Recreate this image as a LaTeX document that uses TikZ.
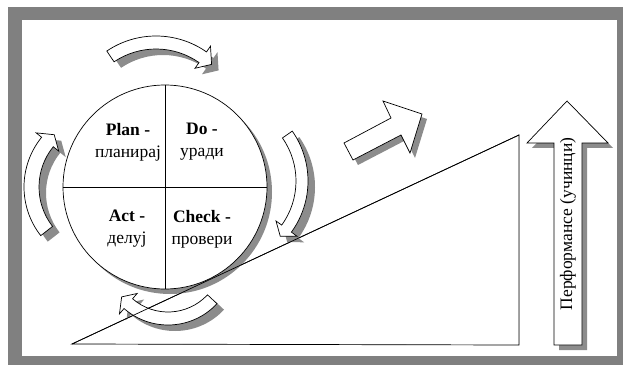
\documentclass[tikz,border=0pt]{standalone}
\usepackage{fontspec}
\setmainfont{Liberation Serif}
\usepackage{tikz}
\definecolor{framegray}{HTML}{808080}
\definecolor{shadowgray}{HTML}{8C8C8C}

% curved block arrow: [style]{cx}{cy}{r in}{r out}{tail}{head base}{tip}
\newcommand{\cyclearrow}[8][]{%
  \path[#1,shift={(#2,#3)}] (#6:#5) arc[start angle=#6, end angle=#7, radius=#5]
    -- (#7:{#5+7}) -- (#8:{(#4+#5)/2}) -- (#7:{#4-7}) -- (#7:#4)
    arc[start angle=#7, end angle=#6, radius=#4] -- cycle;}

\begin{document}
\begin{tikzpicture}[x=1pt,y=1pt,
  shadowpart/.style={fill=shadowgray,draw=none,shift={(5,-5)}},
  bentshadow/.style={fill=shadowgray,draw=none,shift={(7,-6)}},
  facepart/.style={fill=white,draw=black,line width=0.7pt},
  lbl/.style={align=center,font=\fontsize{17.5}{22}\selectfont}]
  \useasboundingbox (0,0) rectangle (623,367);
  % frame
  \fill[framegray] (8,2) rectangle (623,360);
  \fill[white] (22,11) rectangle (617,347);

  % ramp
  \coordinate (rampL) at (72,23);
  \coordinate (rampT) at (519,232);
  \coordinate (rampB) at (519,22);
  \path[shadowpart] (rampL) -- (rampT) -- (rampB) -- cycle;
  \path[facepart] (rampL) -- (rampT) -- (rampB) -- cycle;

  % performance arrow
  \path[shadowpart] (554,22) -- (554,224) -- (527,224) -- (567,266) -- (608,224) -- (582,224) -- (582,22) -- cycle;
  \path[facepart] (554,22) -- (554,224) -- (527,224) -- (567,266) -- (608,224) -- (582,224) -- (582,22) -- cycle;
  \node[lbl,rotate=90] (perf) at (568,143) {Перформансе (учинци)};

  % up-right arrow
  \path[shadowpart] (344,224) -- (391,249) -- (383,266) -- (422,253) -- (410,214) -- (401,232) -- (353,207) -- cycle;
  \path[facepart] (344,224) -- (391,249) -- (383,266) -- (422,253) -- (410,214) -- (401,232) -- (353,207) -- cycle;

  % PDCA wheel
  \fill[shadowgray] (170,175) circle[radius=102];
  \node[circle,draw,fill=white,line width=0.7pt,minimum size=204pt,inner sep=0pt] (cyc) at (165,180) {};
  \draw[line width=0.7pt] (cyc.north) -- (cyc.south);
  \draw[line width=0.7pt] (cyc.west) -- (cyc.east);
  \node[lbl] (plan) at (128,225) {\textbf{Plan -}\\планирај};
  \node[lbl] (do) at (202,225) {\textbf{Do -}\\уради};
  \node[lbl] (act) at (127,138) {\textbf{Act -}\\делуј};
  \node[lbl] (check) at (202,138) {\textbf{Check -}\\провери};

  % arrows round the wheel
  \cyclearrow[bentshadow]{156}{243}{75}{88}{124}{55}{47}
  \cyclearrow[facepart]{156}{243}{75}{88}{124}{55}{47}
  \cyclearrow[bentshadow]{221}{186}{75}{87}{35}{-36}{-43}
  \cyclearrow[facepart]{221}{186}{75}{87}{35}{-36}{-43}
  \cyclearrow[bentshadow]{168}{109}{54}{67}{-43}{-131}{-140}
  \cyclearrow[facepart]{168}{109}{54}{67}{-43}{-131}{-140}
  \cyclearrow[bentshadow]{103}{180}{64}{79}{218}{141}{133}
  \cyclearrow[facepart]{103}{180}{64}{79}{218}{141}{133}

  \draw[line width=0.7pt] (rampL) -- (rampT);
\end{tikzpicture}
\end{document}
